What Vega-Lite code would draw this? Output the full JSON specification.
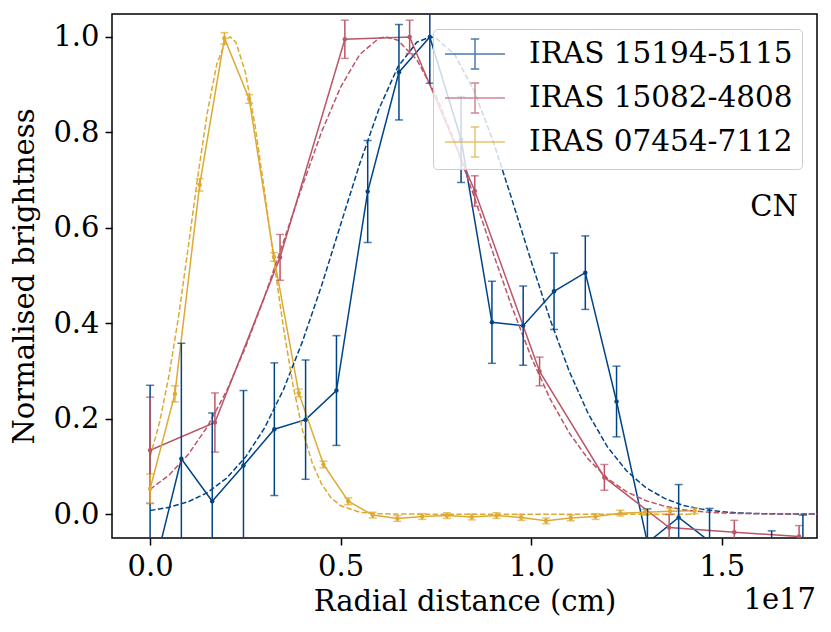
{
  "$schema": "https://vega.github.io/schema/vega-lite/v6.json",
  "width": 705,
  "height": 524,
  "autosize": {"type": "none"},
  "padding": {"left": 112, "top": 14, "right": 14, "bottom": 94},
  "config": {
    "font": "DejaVu Serif",
    "view": {"stroke": "black", "strokeWidth": 1.5},
    "axis": {
      "grid": false, "domain": false,
      "tickColor": "black", "tickWidth": 1.5, "tickSize": 7,
      "labelFont": "DejaVu Serif", "labelFontSize": 29, "labelColor": "black", "labelFlush": false,
      "titleFont": "DejaVu Serif", "titleFontSize": 29, "titleFontWeight": "normal", "titleColor": "black"
    }
  },
  "datasets": {
    "obs": [
      {"source": "IRAS 15194-5115", "r": 0.000, "b": -0.150, "err": 0.420},
      {"source": "IRAS 15194-5115", "r": 0.082, "b": 0.116, "err": 0.242},
      {"source": "IRAS 15194-5115", "r": 0.163, "b": 0.027, "err": 0.185},
      {"source": "IRAS 15194-5115", "r": 0.245, "b": 0.102, "err": 0.157},
      {"source": "IRAS 15194-5115", "r": 0.326, "b": 0.178, "err": 0.139},
      {"source": "IRAS 15194-5115", "r": 0.408, "b": 0.198, "err": 0.125},
      {"source": "IRAS 15194-5115", "r": 0.489, "b": 0.259, "err": 0.115},
      {"source": "IRAS 15194-5115", "r": 0.571, "b": 0.676, "err": 0.107},
      {"source": "IRAS 15194-5115", "r": 0.653, "b": 0.926, "err": 0.100},
      {"source": "IRAS 15194-5115", "r": 0.734, "b": 1.000, "err": 0.097},
      {"source": "IRAS 15194-5115", "r": 0.816, "b": 0.785, "err": 0.090},
      {"source": "IRAS 15194-5115", "r": 0.897, "b": 0.402, "err": 0.086},
      {"source": "IRAS 15194-5115", "r": 0.979, "b": 0.395, "err": 0.083},
      {"source": "IRAS 15194-5115", "r": 1.060, "b": 0.467, "err": 0.080},
      {"source": "IRAS 15194-5115", "r": 1.142, "b": 0.506, "err": 0.077},
      {"source": "IRAS 15194-5115", "r": 1.224, "b": 0.236, "err": 0.074},
      {"source": "IRAS 15194-5115", "r": 1.305, "b": -0.060, "err": 0.071},
      {"source": "IRAS 15194-5115", "r": 1.387, "b": -0.007, "err": 0.069},
      {"source": "IRAS 15194-5115", "r": 1.468, "b": -0.057, "err": 0.069},
      {"source": "IRAS 15194-5115", "r": 1.550, "b": -0.150, "err": 0.067},
      {"source": "IRAS 15194-5115", "r": 1.631, "b": -0.100, "err": 0.065},
      {"source": "IRAS 15194-5115", "r": 1.713, "b": -0.070, "err": 0.068},
      {"source": "IRAS 15082-4808", "r": 0.000, "b": 0.134, "err": 0.111},
      {"source": "IRAS 15082-4808", "r": 0.170, "b": 0.192, "err": 0.062},
      {"source": "IRAS 15082-4808", "r": 0.341, "b": 0.538, "err": 0.048},
      {"source": "IRAS 15082-4808", "r": 0.511, "b": 0.995, "err": 0.040},
      {"source": "IRAS 15082-4808", "r": 0.681, "b": 1.000, "err": 0.035},
      {"source": "IRAS 15082-4808", "r": 0.852, "b": 0.677, "err": 0.032},
      {"source": "IRAS 15082-4808", "r": 1.022, "b": 0.299, "err": 0.030},
      {"source": "IRAS 15082-4808", "r": 1.192, "b": 0.077, "err": 0.027},
      {"source": "IRAS 15082-4808", "r": 1.362, "b": -0.028, "err": 0.027},
      {"source": "IRAS 15082-4808", "r": 1.533, "b": -0.038, "err": 0.025},
      {"source": "IRAS 15082-4808", "r": 1.703, "b": -0.047, "err": 0.023},
      {"source": "IRAS 07454-7112", "r": 0.000, "b": 0.053, "err": 0.031},
      {"source": "IRAS 07454-7112", "r": 0.065, "b": 0.252, "err": 0.017},
      {"source": "IRAS 07454-7112", "r": 0.130, "b": 0.690, "err": 0.013},
      {"source": "IRAS 07454-7112", "r": 0.195, "b": 0.997, "err": 0.012},
      {"source": "IRAS 07454-7112", "r": 0.260, "b": 0.870, "err": 0.009},
      {"source": "IRAS 07454-7112", "r": 0.325, "b": 0.539, "err": 0.009},
      {"source": "IRAS 07454-7112", "r": 0.390, "b": 0.254, "err": 0.008},
      {"source": "IRAS 07454-7112", "r": 0.455, "b": 0.104, "err": 0.007},
      {"source": "IRAS 07454-7112", "r": 0.520, "b": 0.027, "err": 0.007},
      {"source": "IRAS 07454-7112", "r": 0.584, "b": -0.002, "err": 0.006},
      {"source": "IRAS 07454-7112", "r": 0.649, "b": -0.009, "err": 0.006},
      {"source": "IRAS 07454-7112", "r": 0.714, "b": -0.005, "err": 0.006},
      {"source": "IRAS 07454-7112", "r": 0.779, "b": -0.003, "err": 0.006},
      {"source": "IRAS 07454-7112", "r": 0.844, "b": -0.006, "err": 0.006},
      {"source": "IRAS 07454-7112", "r": 0.909, "b": -0.003, "err": 0.006},
      {"source": "IRAS 07454-7112", "r": 0.974, "b": -0.007, "err": 0.006},
      {"source": "IRAS 07454-7112", "r": 1.039, "b": -0.014, "err": 0.006},
      {"source": "IRAS 07454-7112", "r": 1.104, "b": -0.008, "err": 0.006},
      {"source": "IRAS 07454-7112", "r": 1.169, "b": -0.005, "err": 0.006},
      {"source": "IRAS 07454-7112", "r": 1.234, "b": 0.002, "err": 0.006},
      {"source": "IRAS 07454-7112", "r": 1.299, "b": 0.004, "err": 0.006},
      {"source": "IRAS 07454-7112", "r": 1.364, "b": 0.006, "err": 0.006},
      {"source": "IRAS 07454-7112", "r": 1.429, "b": 0.007, "err": 0.006}
    ],
    "fit": [
      {"source": "IRAS 15194-5115", "r": 0.00, "b": 0.0075},
      {"source": "IRAS 15194-5115", "r": 0.05, "b": 0.0143},
      {"source": "IRAS 15194-5115", "r": 0.10, "b": 0.026},
      {"source": "IRAS 15194-5115", "r": 0.15, "b": 0.045},
      {"source": "IRAS 15194-5115", "r": 0.20, "b": 0.075},
      {"source": "IRAS 15194-5115", "r": 0.25, "b": 0.119},
      {"source": "IRAS 15194-5115", "r": 0.30, "b": 0.180},
      {"source": "IRAS 15194-5115", "r": 0.35, "b": 0.261},
      {"source": "IRAS 15194-5115", "r": 0.40, "b": 0.362},
      {"source": "IRAS 15194-5115", "r": 0.45, "b": 0.479},
      {"source": "IRAS 15194-5115", "r": 0.50, "b": 0.607},
      {"source": "IRAS 15194-5115", "r": 0.55, "b": 0.734},
      {"source": "IRAS 15194-5115", "r": 0.60, "b": 0.848},
      {"source": "IRAS 15194-5115", "r": 0.65, "b": 0.937},
      {"source": "IRAS 15194-5115", "r": 0.70, "b": 0.989},
      {"source": "IRAS 15194-5115", "r": 0.735, "b": 1.000},
      {"source": "IRAS 15194-5115", "r": 0.75, "b": 0.998},
      {"source": "IRAS 15194-5115", "r": 0.80, "b": 0.962},
      {"source": "IRAS 15194-5115", "r": 0.85, "b": 0.887},
      {"source": "IRAS 15194-5115", "r": 0.90, "b": 0.782},
      {"source": "IRAS 15194-5115", "r": 0.95, "b": 0.658},
      {"source": "IRAS 15194-5115", "r": 1.00, "b": 0.530},
      {"source": "IRAS 15194-5115", "r": 1.05, "b": 0.407},
      {"source": "IRAS 15194-5115", "r": 1.10, "b": 0.299},
      {"source": "IRAS 15194-5115", "r": 1.15, "b": 0.210},
      {"source": "IRAS 15194-5115", "r": 1.20, "b": 0.141},
      {"source": "IRAS 15194-5115", "r": 1.25, "b": 0.091},
      {"source": "IRAS 15194-5115", "r": 1.30, "b": 0.056},
      {"source": "IRAS 15194-5115", "r": 1.35, "b": 0.033},
      {"source": "IRAS 15194-5115", "r": 1.40, "b": 0.018},
      {"source": "IRAS 15194-5115", "r": 1.45, "b": 0.010},
      {"source": "IRAS 15194-5115", "r": 1.50, "b": 0.005},
      {"source": "IRAS 15194-5115", "r": 1.55, "b": 0.0024},
      {"source": "IRAS 15194-5115", "r": 1.60, "b": 0.0011},
      {"source": "IRAS 15194-5115", "r": 1.65, "b": 0.0005},
      {"source": "IRAS 15194-5115", "r": 1.70, "b": 0.0002},
      {"source": "IRAS 15194-5115", "r": 1.75, "b": 0.0001},
      {"source": "IRAS 15082-4808", "r": 0.00, "b": 0.052},
      {"source": "IRAS 15082-4808", "r": 0.05, "b": 0.082},
      {"source": "IRAS 15082-4808", "r": 0.10, "b": 0.125},
      {"source": "IRAS 15082-4808", "r": 0.15, "b": 0.183},
      {"source": "IRAS 15082-4808", "r": 0.20, "b": 0.257},
      {"source": "IRAS 15082-4808", "r": 0.25, "b": 0.349},
      {"source": "IRAS 15082-4808", "r": 0.30, "b": 0.455},
      {"source": "IRAS 15082-4808", "r": 0.35, "b": 0.571},
      {"source": "IRAS 15082-4808", "r": 0.40, "b": 0.689},
      {"source": "IRAS 15082-4808", "r": 0.45, "b": 0.801},
      {"source": "IRAS 15082-4808", "r": 0.50, "b": 0.895},
      {"source": "IRAS 15082-4808", "r": 0.55, "b": 0.963},
      {"source": "IRAS 15082-4808", "r": 0.60, "b": 0.997},
      {"source": "IRAS 15082-4808", "r": 0.62, "b": 1.000},
      {"source": "IRAS 15082-4808", "r": 0.65, "b": 0.993},
      {"source": "IRAS 15082-4808", "r": 0.70, "b": 0.952},
      {"source": "IRAS 15082-4808", "r": 0.75, "b": 0.878},
      {"source": "IRAS 15082-4808", "r": 0.80, "b": 0.779},
      {"source": "IRAS 15082-4808", "r": 0.85, "b": 0.666},
      {"source": "IRAS 15082-4808", "r": 0.90, "b": 0.547},
      {"source": "IRAS 15082-4808", "r": 0.95, "b": 0.433},
      {"source": "IRAS 15082-4808", "r": 1.00, "b": 0.329},
      {"source": "IRAS 15082-4808", "r": 1.05, "b": 0.241},
      {"source": "IRAS 15082-4808", "r": 1.10, "b": 0.170},
      {"source": "IRAS 15082-4808", "r": 1.15, "b": 0.115},
      {"source": "IRAS 15082-4808", "r": 1.20, "b": 0.075},
      {"source": "IRAS 15082-4808", "r": 1.25, "b": 0.047},
      {"source": "IRAS 15082-4808", "r": 1.30, "b": 0.0285},
      {"source": "IRAS 15082-4808", "r": 1.35, "b": 0.0166},
      {"source": "IRAS 15082-4808", "r": 1.40, "b": 0.0093},
      {"source": "IRAS 15082-4808", "r": 1.45, "b": 0.005},
      {"source": "IRAS 15082-4808", "r": 1.50, "b": 0.0026},
      {"source": "IRAS 15082-4808", "r": 1.55, "b": 0.0013},
      {"source": "IRAS 15082-4808", "r": 1.60, "b": 0.0006},
      {"source": "IRAS 15082-4808", "r": 1.65, "b": 0.0003},
      {"source": "IRAS 15082-4808", "r": 1.70, "b": 0.0001},
      {"source": "IRAS 15082-4808", "r": 1.75, "b": 0.0},
      {"source": "IRAS 07454-7112", "r": 0.000, "b": 0.120},
      {"source": "IRAS 07454-7112", "r": 0.025, "b": 0.193},
      {"source": "IRAS 07454-7112", "r": 0.050, "b": 0.292},
      {"source": "IRAS 07454-7112", "r": 0.075, "b": 0.416},
      {"source": "IRAS 07454-7112", "r": 0.100, "b": 0.559},
      {"source": "IRAS 07454-7112", "r": 0.125, "b": 0.707},
      {"source": "IRAS 07454-7112", "r": 0.150, "b": 0.841},
      {"source": "IRAS 07454-7112", "r": 0.175, "b": 0.943},
      {"source": "IRAS 07454-7112", "r": 0.200, "b": 0.995},
      {"source": "IRAS 07454-7112", "r": 0.210, "b": 1.000},
      {"source": "IRAS 07454-7112", "r": 0.225, "b": 0.989},
      {"source": "IRAS 07454-7112", "r": 0.250, "b": 0.926},
      {"source": "IRAS 07454-7112", "r": 0.275, "b": 0.816},
      {"source": "IRAS 07454-7112", "r": 0.300, "b": 0.678},
      {"source": "IRAS 07454-7112", "r": 0.325, "b": 0.530},
      {"source": "IRAS 07454-7112", "r": 0.350, "b": 0.390},
      {"source": "IRAS 07454-7112", "r": 0.375, "b": 0.270},
      {"source": "IRAS 07454-7112", "r": 0.400, "b": 0.176},
      {"source": "IRAS 07454-7112", "r": 0.425, "b": 0.108},
      {"source": "IRAS 07454-7112", "r": 0.450, "b": 0.063},
      {"source": "IRAS 07454-7112", "r": 0.475, "b": 0.034},
      {"source": "IRAS 07454-7112", "r": 0.500, "b": 0.0175},
      {"source": "IRAS 07454-7112", "r": 0.550, "b": 0.004},
      {"source": "IRAS 07454-7112", "r": 0.600, "b": 0.0007},
      {"source": "IRAS 07454-7112", "r": 0.700, "b": 0.0},
      {"source": "IRAS 07454-7112", "r": 0.900, "b": 0.0},
      {"source": "IRAS 07454-7112", "r": 1.100, "b": 0.0},
      {"source": "IRAS 07454-7112", "r": 1.300, "b": 0.0},
      {"source": "IRAS 07454-7112", "r": 1.430, "b": 0.0}
    ]
  },
  "encoding": {
    "x": {
      "field": "r", "type": "quantitative",
      "scale": {"domain": [-0.1, 1.75], "nice": false, "zero": false},
      "axis": {"values": [0, 0.5, 1, 1.5], "format": ".1f", "title": "Radial distance (cm)", "labelPadding": 7, "titlePadding": 6}
    },
    "y": {
      "field": "b", "type": "quantitative",
      "scale": {"domain": [-0.05, 1.048], "nice": false, "zero": false},
      "axis": {"values": [0, 0.2, 0.4, 0.6, 0.8, 1.0], "format": ".1f", "title": "Normalised brightness", "labelPadding": 6, "titlePadding": 13}
    }
  },
  "layer": [
    {
      "data": {"name": "obs"},
      "mark": {"type": "line", "strokeWidth": 1.5, "clip": true},
      "encoding": {
        "color": {
          "field": "source", "type": "nominal",
          "scale": {
            "domain": ["IRAS 15194-5115", "IRAS 15082-4808", "IRAS 07454-7112"],
            "range": ["#004488", "#BB5566", "#DDAA33"]
          },
          "legend": {
            "title": null, "orient": "top-right", "offset": 15, "padding": 9,
            "symbolType": "M-1,0H3M1,-1V1M0.72,-1H1.28M0.72,1H1.28",
            "symbolSize": 900, "symbolStrokeWidth": 1.5, "symbolOffset": 2,
            "labelFont": "DejaVu Serif", "labelFontSize": 29.5, "labelColor": "black",
            "labelOffset": 53, "labelLimit": 400, "rowPadding": 8,
            "fillColor": "rgba(255,255,255,0.8)", "strokeColor": "#cccccc", "cornerRadius": 4
          }
        }
      }
    },
    {
      "data": {"name": "fit"},
      "mark": {"type": "line", "strokeDash": [5.5, 2.4], "strokeWidth": 1.5, "clip": true},
      "encoding": {
        "color": {"field": "source", "type": "nominal"}
      }
    },
    {
      "data": {"name": "obs"},
      "mark": {"type": "errorbar", "ticks": true, "size": 8, "thickness": 1.5, "clip": true},
      "encoding": {
        "yError": {"field": "err"},
        "color": {"field": "source", "type": "nominal"}
      }
    },
    {
      "data": {"name": "obs"},
      "mark": {"type": "circle", "size": 20, "opacity": 1, "clip": true},
      "encoding": {
        "color": {"field": "source", "type": "nominal"}
      }
    },
    {
      "data": {"values": [{"r": 1.7, "b": 0.625, "label": "CN"}]},
      "mark": {"type": "text", "align": "right", "baseline": "alphabetic", "fontSize": 29, "color": "black"},
      "encoding": {"text": {"field": "label"}}
    },
    {
      "data": {"values": [{"r": 1.75, "b": -0.05, "label": "1e17"}]},
      "mark": {"type": "text", "align": "right", "baseline": "alphabetic", "dy": 71, "dx": -1, "fontSize": 29, "color": "black"},
      "encoding": {"text": {"field": "label"}}
    }
  ]
}
